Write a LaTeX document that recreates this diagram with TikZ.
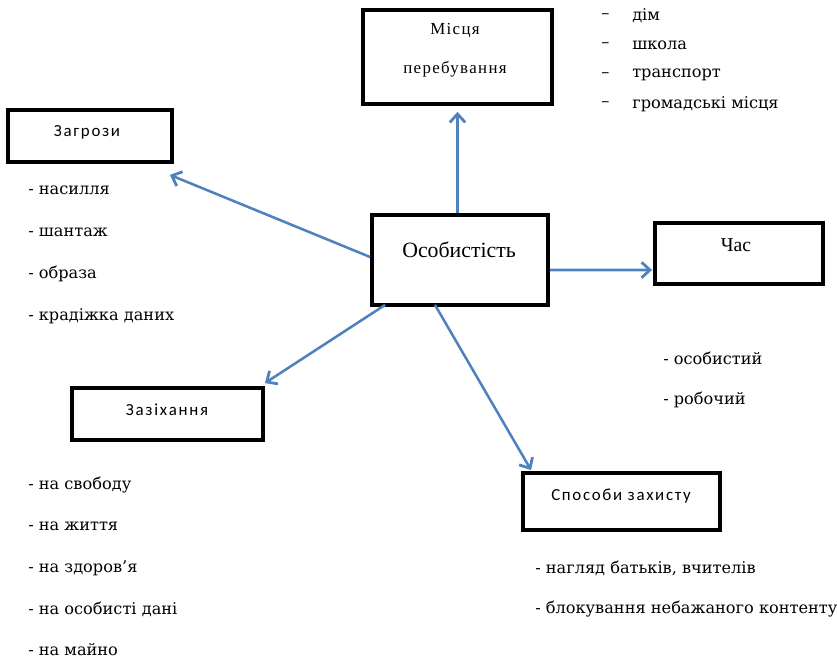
\documentclass[tikz,border=0pt]{standalone}
\usepackage{fontspec}
\setmainfont{Liberation Serif}
\newfontfamily\sansf[LetterSpace=10]{Carlito}
\newfontfamily\spacedserif[LetterSpace=8]{Liberation Serif}
\newfontfamily\listf{DejaVu Serif}
\usetikzlibrary{arrows.meta}
\definecolor{arrblue}{HTML}{4F81BD}
\tikzset{
  box/.style={draw=black, line width=2.7pt, fill=white, rectangle, inner sep=0pt},
  lbl/.style={inner sep=0pt, align=center},
  arr/.style={draw=arrblue, line width=1.8pt, -{Straight Barb[length=6pt,width=11pt,line width=2pt]}},
  item/.style={anchor=west, inner sep=0pt, font=\listf\fontsize{11.5}{14}\selectfont}
}
\begin{document}
\begin{tikzpicture}[x=0.025cm, y=-0.025cm]
\useasboundingbox (0,0) rectangle (837,659);

% boxes
\node[box, minimum width=4.725cm, minimum height=2.35cm] (m) at (457.5,57) {};
\node[box, minimum width=4.1cm, minimum height=1.3cm] (z) at (90,136) {};
\node[box, minimum width=4.4cm, minimum height=2.25cm] (o) at (460,260) {};
\node[box, minimum width=4.2cm, minimum height=1.525cm] (c) at (739,253.5) {};
\node[box, minimum width=4.775cm, minimum height=1.3cm] (za) at (167.5,414) {};
\node[box, minimum width=4.925cm, minimum height=1.425cm] (s) at (621.5,501.5) {};

% box labels
\node[lbl, font=\spacedserif\fontsize{12}{12}\selectfont] (m1) at (455,31) {Місця};
\node[lbl, font=\spacedserif\fontsize{12}{12}\selectfont] (m2) at (455,69) {перебування};
\node[lbl, font=\sansf\fontsize{12}{12}\selectfont] (zl) at (87,132) {Загрози};
\node[lbl, font=\fontsize{15.5}{17}\selectfont] (ol) at (459,250) {Особистість};
\node[lbl, font=\fontsize{14}{14}\selectfont] (cl) at (736,245) {Час};
\node[lbl, font=\sansf\fontsize{12}{12}\selectfont] (zal) at (167,410) {Зазіхання};
\node[lbl, font=\sansf\fontsize{12}{12}\selectfont] (sl) at (621,496) {Способи захисту};

% arrows
\draw[arr] (m.south |- o.north) -- ([shift={(0,6)}]m.south);
\draw[arr] ([shift={(0,-3)}]o.west) -- ([shift={(-4,11)}]z.south east);
\draw[arr] ([shift={(0,10)}]o.east) -- ([shift={(-1,16.5)}]c.west);
\draw[arr] ([shift={(15,-2)}]o.south west) -- ([shift={(0,-3)}]za.north east);
\draw[arr] ([shift={(-25,-2)}]o.south) -- ([shift={(10,-1)}]s.north west);

% top-right list
\foreach \t [count=\i] in {дім, школа, транспорт, громадські місця}{
  \node[item] (dd\i) at (601,{16+29.3*(\i-1)}) {–};
  \node[item] (t\i) at (632,{16+29.3*(\i-1)}) {\t};
}

% Загрози list
\node[item] (z1) at (28,190) {- насилля};
\node[item] (z2) at (28,232) {- шантаж};
\node[item] (z3) at (28,274) {- образа};
\node[item] (z4) at (28,316) {- крадіжка даних};

% Час list
\node[item] (c1) at (663,358) {- особистий};
\node[item] (c2) at (663,400) {- робочий};

% Зазіхання list
\node[item] (a1) at (28,485) {- на свободу};
\node[item] (a2) at (28,526) {- на життя};
\node[item] (a3) at (28,568) {- на здоров’я};
\node[item] (a4) at (28,609) {- на особисті дані};
\node[item] (a5) at (28,650) {- на майно};

% Способи list
\node[item] (s1) at (535,568) {- нагляд батьків, вчителів};
\node[item] (s2) at (535,609) {- блокування небажаного контенту};
\end{tikzpicture}
\end{document}
